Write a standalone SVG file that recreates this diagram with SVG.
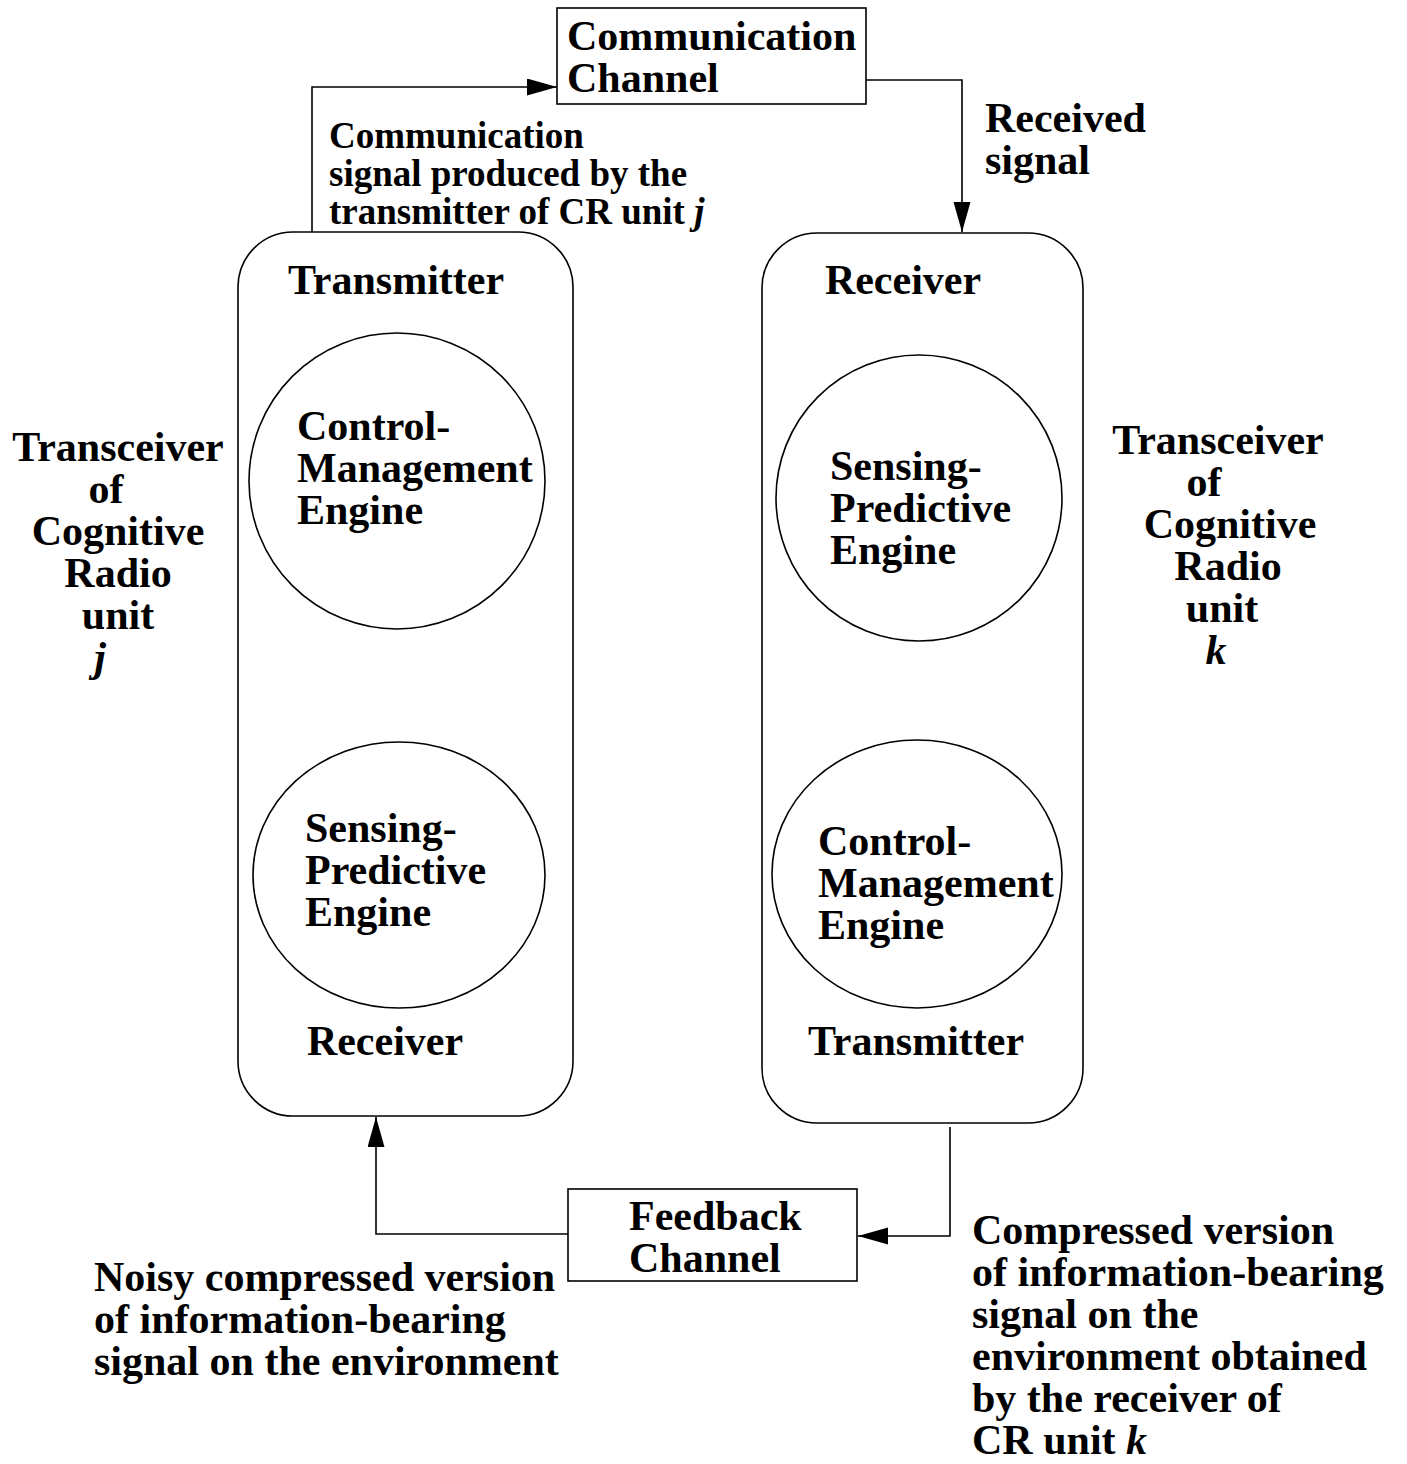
<svg xmlns="http://www.w3.org/2000/svg" width="1407" height="1464" viewBox="0 0 1407 1464">
<style>
text{font-family:"Liberation Serif","Times New Roman",serif;font-weight:bold;font-size:42px;fill:#000}
.s{font-size:37px}
.c{text-anchor:middle}
.shape{fill:#fff;stroke:#000;stroke-width:1.6}
.conn{fill:none;stroke:#000;stroke-width:1.6}
</style>
<defs>
<marker id="ah" markerUnits="userSpaceOnUse" markerWidth="31" markerHeight="18" refX="30" refY="8.5" orient="auto-start-reverse" viewBox="0 0 31 18">
<path d="M0,0 L30,8.5 L0,17 z" fill="#000"/>
</marker>
</defs>
<rect width="1407" height="1464" fill="#fff"/>

<g id="connectors">
<polyline class="conn" points="312,232 312,87 557,87" marker-end="url(#ah)"/>
<polyline class="conn" points="866,80 962,80 962,232" marker-end="url(#ah)"/>
<polyline class="conn" points="950,1127 950,1236 858,1236" marker-end="url(#ah)"/>
<polyline class="conn" points="568,1234 376,1234 376,1117" marker-end="url(#ah)"/>
<line class="conn" x1="397" y1="630" x2="397" y2="741" marker-start="url(#ah)" marker-end="url(#ah)"/>
<line class="conn" x1="917" y1="642" x2="917" y2="739" marker-start="url(#ah)" marker-end="url(#ah)"/>
</g>

<g id="comm-channel">
<rect class="shape" x="557" y="8" width="309" height="96"/>
<text x="567" y="50">Communication</text>
<text x="567" y="92">Channel</text>
</g>

<g id="transceiver-j">
<rect class="shape" x="238" y="232" width="335" height="884" rx="55" ry="55"/>
<text class="c" x="396" y="294">Transmitter</text>
<text class="c" x="385" y="1055">Receiver</text>
</g>

<g id="cme-j">
<ellipse class="shape" cx="397" cy="481" rx="148" ry="148"/>
<text x="297" y="440">Control-</text>
<text x="297" y="482">Management</text>
<text x="297" y="524">Engine</text>
</g>

<g id="spe-j">
<ellipse class="shape" cx="399" cy="875" rx="146" ry="133"/>
<text x="305" y="842">Sensing-</text>
<text x="305" y="884">Predictive</text>
<text x="305" y="926">Engine</text>
</g>

<g id="transceiver-k">
<rect class="shape" x="762" y="233" width="321" height="890" rx="55" ry="55"/>
<text class="c" x="903" y="294">Receiver</text>
<text class="c" x="916" y="1055">Transmitter</text>
</g>

<g id="spe-k">
<ellipse class="shape" cx="919" cy="498" rx="143" ry="143"/>
<text x="830" y="480">Sensing-</text>
<text x="830" y="522">Predictive</text>
<text x="830" y="564">Engine</text>
</g>

<g id="cme-k">
<ellipse class="shape" cx="917" cy="874" rx="145" ry="134"/>
<text x="818" y="855">Control-</text>
<text x="818" y="897">Management</text>
<text x="818" y="939">Engine</text>
</g>

<g id="feedback-channel">
<rect class="shape" x="568" y="1189" width="289" height="92"/>
<text x="629" y="1230">Feedback</text>
<text x="629" y="1272">Channel</text>
</g>

<g id="labels">
<text class="s" x="329" y="148">Communication</text>
<text class="s" x="329" y="186">signal produced by the</text>
<text class="s" x="329" y="224">transmitter of CR unit <tspan font-style="italic">j</tspan></text>

<text x="985" y="132">Received</text>
<text x="985" y="174">signal</text>

<text class="c" x="118" y="461">Transceiver</text>
<text class="c" x="106" y="503">of</text>
<text class="c" x="118" y="545">Cognitive</text>
<text class="c" x="118" y="587">Radio</text>
<text class="c" x="118" y="629">unit</text>
<text class="c" x="100" y="671" font-style="italic">j</text>

<text class="c" x="1218" y="454">Transceiver</text>
<text class="c" x="1204" y="496">of</text>
<text class="c" x="1230" y="538">Cognitive</text>
<text class="c" x="1228" y="580">Radio</text>
<text class="c" x="1222" y="622">unit</text>
<text class="c" x="1216" y="664" font-style="italic">k</text>

<text x="94" y="1291">Noisy compressed version</text>
<text x="94" y="1333">of information-bearing</text>
<text x="94" y="1375">signal on the environment</text>

<text x="972" y="1244">Compressed version</text>
<text x="972" y="1286">of information-bearing</text>
<text x="972" y="1328">signal on the</text>
<text x="972" y="1370">environment obtained</text>
<text x="972" y="1412">by the receiver of</text>
<text x="972" y="1454">CR unit <tspan font-style="italic">k</tspan></text>
</g>
</svg>
